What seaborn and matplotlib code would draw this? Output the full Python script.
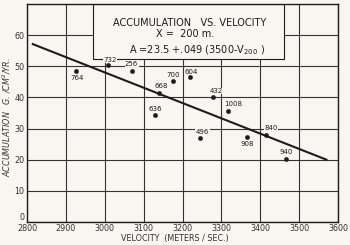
import pandas as pd
import seaborn as sns
import matplotlib.pyplot as plt
from matplotlib.patches import Rectangle

# Station data
stations = ['764', '732', '256', '700', '604', '668', '636', '432', '1008', '496', '908', '840', '940']
velocity = [2926, 3008, 3069, 3175, 3218, 3139, 3128, 3279, 3318, 3246, 3367, 3415, 3467]
accumulation = [48.4, 50.3, 48.4, 45.2, 46.4, 41.3, 34.2, 40.0, 35.5, 26.8, 27.4, 28.0, 20.3]

# Fitted line end points: A = 23.5 + .049 (3500 - V200)
line_velocity = [2815, 3570]
line_accumulation = [57.1, 20.0]

x_ticks = [2800, 2900, 3000, 3100, 3200, 3300, 3400, 3500, 3600]
y_ticks = [0, 10, 20, 30, 40, 50, 60]

# label offsets in points (dx, dy)
offsets = [(1, -5), (1.5, 4), (0, 5.5), (0.5, 4.5), (1.5, 4), (2, 5), (0.5, 4.5),
           (2, 4.5), (3.5, 5), (1.5, 5), (0, -5), (3.5, 5), (0, 4.5)]

df = pd.DataFrame({'station': stations, 'velocity': velocity, 'accumulation': accumulation})
line_df = pd.DataFrame({'velocity': line_velocity, 'accumulation': line_accumulation})

bg = '#f7f6f0'
ink = '#1c1c1c'

fig = plt.figure(figsize=(3.5, 2.45), dpi=100, facecolor=bg)
ax = fig.add_axes([0.077, 0.094, 0.889, 0.89], facecolor=bg)

# Grid
ax.set_xlim(2800, 3600)
ax.set_ylim(0, 70)
ax.set_xticks(x_ticks)
ax.set_yticks(y_ticks)
ax.grid(True, color='#333333', linewidth=0.8, zorder=0)
ax.set_axisbelow(True)
for s in ax.spines.values():
    s.set_color(ink)
    s.set_linewidth(1.0)
ax.tick_params(length=0, labelsize=5.8, colors='#333333')
ax.tick_params(axis='x', pad=1.5)
ax.tick_params(axis='y', pad=2)
ax.get_yticklabels()[0].set_va('bottom')

# Title box covers the grid in the upper middle
ax.add_patch(Rectangle((2970, 52.3), 490, 17.7, facecolor=bg, edgecolor=ink,
                       linewidth=0.8, zorder=2))
ax.text(3217, 63.9, 'ACCUMULATION   VS. VELOCITY', ha='center', va='center',
        fontsize=7, color=ink, zorder=3)
ax.text(3207, 60.3, 'X =  200 m.', ha='center', va='center', fontsize=7, color=ink, zorder=3)
ax.text(3237, 55.0, 'A =23.5 +.049 (3500-V$_{200}$ )', ha='center', va='center',
        fontsize=7, color=ink, zorder=3)

# Regression line and stations
sns.lineplot(data=line_df, x='velocity', y='accumulation', color=ink, linewidth=1.5,
             ax=ax, zorder=4)
sns.scatterplot(data=df, x='velocity', y='accumulation', color=ink, s=10,
                edgecolor=ink, ax=ax, zorder=5)

for (name, v, a), (dx, dy) in zip(zip(stations, velocity, accumulation), offsets):
    ax.annotate(name, (v, a), xytext=(dx, dy), textcoords='offset points',
                ha='center', va='center', fontsize=5, color=ink, zorder=6,
                bbox=dict(boxstyle='square,pad=0.05', facecolor=bg, edgecolor='none'))

ax.set_xlabel('VELOCITY  (METERS / SEC.)', fontsize=5.8, color='#333333')
ax.xaxis.set_label_coords(0.476, -0.055)
ax.set_ylabel('ACCUMULATION   G. /CM$^2$/YR.', fontsize=5.8, color='#333333',
              style='italic')
ax.yaxis.set_label_coords(-0.045, 0.48)

fig.savefig('out.png', dpi=100, facecolor=bg)
